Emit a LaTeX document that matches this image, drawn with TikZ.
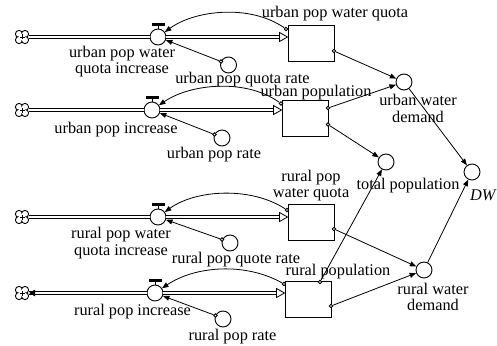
\documentclass[tikz,border=0pt]{standalone}
\usepackage{fontspec}
\setmainfont{Liberation Serif}
\usetikzlibrary{arrows.meta,calc}
\begin{document}
\begin{tikzpicture}[x=1pt,y=-1pt,
  every node/.style={inner sep=0pt},
  lbl/.style={font=\fontsize{16.3}{16.5}\selectfont, align=center},
  aux/.style={circle, draw, line width=0.9pt, minimum size=16pt, fill=white},
  valvebody/.style={circle, draw, line width=0.9pt, minimum size=16pt, fill=white},
  stockbox/.style={draw, line width=1pt, minimum width=46pt, minimum height=36pt, fill=white},
  src/.style={circle, minimum size=14pt},
  pipe/.style={double, double distance=1.6pt, line width=0.9pt},
  link/.style={line width=0.8pt, -{Triangle[length=6.5pt,width=5pt]}},
  odot/.style={circle, draw, line width=0.8pt, fill=white, minimum size=3.6pt},
  openhead/.style={draw, line width=0.8pt, fill=white},
]
\useasboundingbox (0,0) rectangle (497,345);

% clouds
\node[src] (C1) at (22,37) {};
\node[src] (C2) at (22,110) {};
\node[src] (C3) at (22,217) {};
\node[src] (C4) at (22,293) {};
\foreach \c in {C1,C2,C3,C4}{
  \foreach \dx/\dy in {-3/-3,3/-3,-3/3,3/3}{
    \draw[line width=0.9pt, fill=white] ($(\c.center)+(\dx,\dy)$) circle[radius=3.6pt];
  }
  \fill[white] (\c.center) circle[radius=3.6pt];
  \draw[line width=0.7pt] ($(\c.center)+(-2.5,0)$) -- ($(\c.center)+(2.5,0)$);
  \draw[line width=0.7pt] ($(\c.center)+(0,-2.5)$) -- ($(\c.center)+(0,2.5)$);
}

% stocks
\node[stockbox] (S1) at (311,43.5) {};
\node[stockbox] (S2) at (305,118.5) {};
\node[stockbox] (S3) at (311,222.5) {};
\node[stockbox] (S4) at (308,299.5) {};

% valves
\node[valvebody] (V1) at (158,37) {};
\node[valvebody] (V2) at (152,110) {};
\node[valvebody] (V3) at (158,217) {};
\node[valvebody] (V4) at (155,293) {};

% pipes
\foreach \c/\v/\s in {C1/V1/S1,C2/V2/S2,C3/V3/S3,C4/V4/S4}{
  \draw[pipe] (\c) -- (\v);
  \coordinate (E\s) at (\s.west |- \v);
  \draw[pipe] (\v) -- ($(E\s)+(-7,0)$);
  \draw[openhead] ($(E\s)+(-8,-4.5)$) -- (E\s) -- ($(E\s)+(-8,4.5)$) -- cycle;
  \draw[line width=1pt] (\v.north) -- ++(0,-3.5);
  \fill ($(\v.north)+(-6.5,-3)$) rectangle ($(\v.north)+(6.5,-5.8)$);
}
% outflow arrowhead at the last cloud
\coordinate (EC4) at (C4.east);
\fill (EC4) -- ($(EC4)+(6,-3.5)$) -- ($(EC4)+(6,3.5)$) -- cycle;

% auxiliaries
\node[aux] (A1) at (228.5,65) {};
\node[aux] (A2) at (222,138) {};
\node[aux] (A3) at (230,243) {};
\node[aux] (A4) at (223,319) {};
\node[aux] (UWD) at (404,82) {};
\node[aux] (TP) at (386,162) {};
\node[aux] (DW) at (472,172) {};
\node[aux] (RWD) at (424,270) {};

% output dots
\node[odot] (A1o) at (221,61.5) {};
\node[odot] (A2o) at (214.5,134.5) {};
\node[odot] (A3o) at (222,239.5) {};
\node[odot] (A4o) at (215.5,315.5) {};
\node[odot] (S1c) at (286,29) {};
\node[odot] (S2c) at (281,103.5) {};
\node[odot] (S3c) at (287,210) {};
\node[odot] (S4c) at (284,284) {};
\node[odot] (S1o) at (334,51) {};
\node[odot] (S2o) at (328,108) {};
\node[odot] (S2p) at (328,124.5) {};
\node[odot] (S3o) at (334,229) {};
\node[odot] (S4t) at (320,282) {};
\node[odot] (S4o) at (331,306) {};

% feedback curves to the valves
\draw[link] (S1c) .. controls (250,4) and (195,10) .. (V1);
\draw[link] (S2c) .. controls (245,78) and (190,84) .. (V2);
\draw[link] (S3c) .. controls (250,186) and (195,190) .. (V3);
\draw[link] (S4c) .. controls (245,262) and (195,266) .. (V4);

% aux to valves
\draw[link] (A1o) -- (V1);
\draw[link] (A2o) -- (V2);
\draw[link] (A3o) -- (V3);
\draw[link] (A4o) -- (V4);

% right side links
\draw[link] (S1o) -- (UWD);
\draw[link] (S2o) -- (UWD);
\draw[link] (S2p) -- (TP);
\draw[link] (S4t) -- (TP);
\draw[link] (S3o) -- (RWD);
\draw[link] (S4o) -- (RWD);
\draw[link] (UWD) -- (DW);
\draw[link] (RWD) -- (DW);

% labels
\node[lbl] (LS1) at (335,14) {urban pop water quota};
\node[lbl] (LS2) at (316,92.5) {urban population};
\node[lbl] (LS3) at (311,185.5) {rural pop\\water quota};
\node[lbl] (LS4) at (338,272) {rural population};
\node[lbl] (LV1) at (122,61.5) {urban pop water\\quota increase};
\node[lbl] (LV2) at (116,130) {urban pop increase};
\node[lbl] (LV3) at (121,243) {rural pop water\\quota increase};
\node[lbl] (LV4) at (132.5,312) {rural pop increase};
\node[lbl] (LA1) at (242.5,79.5) {urban pop quota rate};
\node[lbl] (LA2) at (214,155) {urban pop rate};
\node[lbl] (LA3) at (236,260) {rural pop quote rate};
\node[lbl] (LA4) at (232.5,337) {rural pop rate};
\node[lbl] (LUWD) at (418,108.5) {urban water\\demand};
\node[lbl] (LTP) at (408,186) {total population};
\node[lbl] (LDW) at (483.5,195) {\textit{DW}};
\node[lbl] (LRWD) at (433,297) {rural water\\demand};
\end{tikzpicture}
\end{document}
